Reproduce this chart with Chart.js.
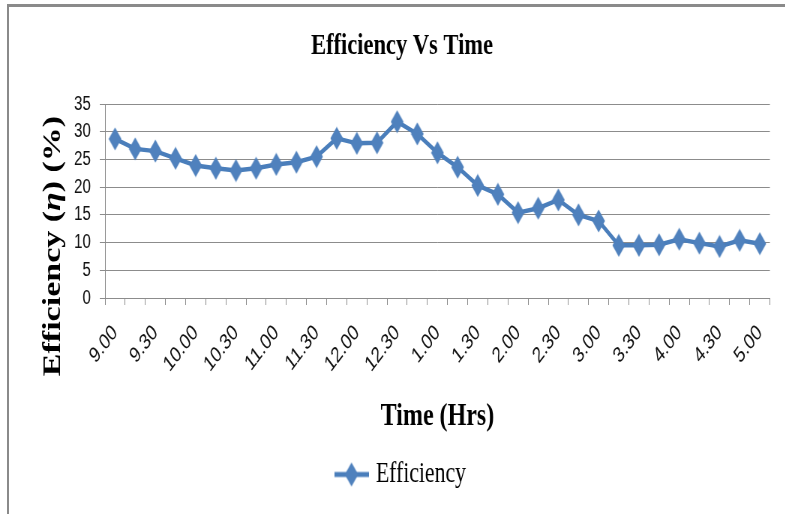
<!DOCTYPE html>
<html>
<head>
<meta charset="utf-8">
<script src="https://cdn.jsdelivr.net/npm/chart.js@4.4.1/dist/chart.umd.min.js"></script>
<style>
    html, body { margin: 0; padding: 0; background: #fff; overflow: hidden; }
    #frame {
        position: absolute; left: 7px; top: 4px; width: 900px; height: 600px;
        border-left: 2px solid #8a8a8a; border-top: 3px solid #8a8a8a;
    }
    /* the original chart is squeezed sideways, so draw wide and scale it down */
    #wrap {
        position: absolute; left: 0; top: 0; width: 1047px; height: 514px;
        transform: scaleX(0.75); transform-origin: 0 0;
    }
</style>
</head>
<body>
<div id="frame"></div>
<div id="wrap"><canvas id="effChart"></canvas></div>
<script>
// Time of day, every 15 minutes (only every other one is labelled)
const times = [
    '9.00', '9.15', '9.30', '9.45', '10.00', '10.15', '10.30', '10.45',
    '11.00', '11.15', '11.30', '11.45', '12.00', '12.15', '12.30', '12.45',
    '1.00', '1.15', '1.30', '1.45', '2.00', '2.15', '2.30', '2.45',
    '3.00', '3.15', '3.30', '3.45', '4.00', '4.15', '4.30', '4.45', '5.00'
];
// Efficiency (%)
const efficiency = [
    28.7, 26.9, 26.5, 25.2, 23.9, 23.4, 23.0, 23.4,
    24.1, 24.5, 25.5, 28.8, 27.9, 28.0, 31.8, 29.6,
    26.2, 23.6, 20.3, 18.7, 15.4, 16.2, 17.7, 15.0,
    13.9, 9.5, 9.5, 9.6, 10.6, 9.9, 9.3, 10.4, 9.8
];
const yTicks = [0, 5, 10, 15, 20, 25, 30, 35];

const blue = '#4A7EBB';
const markerBlue = '#4F81BD';
const gridGray = '#8c8c8c';

// tall diamond marker, drawn once and reused
function drawDiamond(g, cx, cy, hw, hh) {
    g.fillStyle = markerBlue;
    g.beginPath();
    g.moveTo(cx, cy - hh);
    g.lineTo(cx + hw, cy);
    g.lineTo(cx, cy + hh);
    g.lineTo(cx - hw, cy);
    g.closePath();
    g.fill();
}

function makeMarker() {
    const c = document.createElement('canvas');
    c.width = 18;
    c.height = 24;
    drawDiamond(c.getContext('2d'), 9, 12, 8.5, 11.5);
    return c;
}

// legend icon: short line with a diamond on it
function makeLegendIcon() {
    const c = document.createElement('canvas');
    c.width = 46;
    c.height = 28;
    const g = c.getContext('2d');
    g.strokeStyle = blue;
    g.lineWidth = 5;
    g.beginPath();
    g.moveTo(0, 14);
    g.lineTo(46, 14);
    g.stroke();
    drawDiamond(g, 23, 14, 9, 12);
    return c;
}

// y axis title sits lower than the axis middle in the original
const yTitlePlugin = {
    id: 'yTitle',
    afterDraw(chart) {
        const ctx = chart.ctx;
        const parts = [
            { text: 'Efficiency (', font: 'bold 34px "Liberation Serif"' },
            { text: 'η', font: 'italic bold 34px "Liberation Serif"' },
            { text: ') (%)', font: 'bold 34px "Liberation Serif"' }
        ];
        let total = 0;
        parts.forEach(p => { ctx.font = p.font; p.w = ctx.measureText(p.text).width; total += p.w; });
        ctx.save();
        ctx.translate(71, 246);
        ctx.rotate(-Math.PI / 2);
        ctx.fillStyle = '#000';
        ctx.textBaseline = 'middle';
        ctx.textAlign = 'left';
        let x = -total / 2;
        parts.forEach(p => { ctx.font = p.font; ctx.fillText(p.text, x, 0); x += p.w; });
        ctx.restore();
    }
};

document.addEventListener('DOMContentLoaded', function () {
    initEfficiencyChart();
});

function initEfficiencyChart() {
    const ctx = document.getElementById('effChart');
    if (!ctx) return;

    new Chart(ctx, {
        type: 'line',
        data: {
            labels: times,
            datasets: [{
                label: 'Efficiency',
                data: efficiency,
                borderColor: blue,
                backgroundColor: markerBlue,
                pointStyle: makeMarker(),
                pointRadius: 10,
                pointHoverRadius: 10,
                borderWidth: 4.5,
                tension: 0
            }]
        },
        options: {
            responsive: true,
            maintainAspectRatio: false,
            animation: false,
            layout: {
                padding: { left: 40, right: 15, top: 0, bottom: 15 }
            },
            plugins: {
                title: {
                    display: true,
                    text: 'Efficiency Vs Time',
                    color: '#000',
                    font: { family: '"Liberation Serif"', size: 30, weight: 'bold' },
                    padding: { top: 28, bottom: 40 }
                },
                legend: {
                    display: true,
                    position: 'bottom',
                    labels: {
                        usePointStyle: true,
                        pointStyle: makeLegendIcon(),
                        pointStyleWidth: 36,
                        color: '#000',
                        padding: 22,
                        font: { family: '"Liberation Serif"', size: 29 }
                    }
                },
                tooltip: { enabled: false }
            },
            scales: {
                x: {
                    offset: true,
                    grid: {
                        offset: true,
                        drawOnChartArea: false,
                        drawTicks: true,
                        tickLength: 7,
                        color: gridGray
                    },
                    border: { display: true, color: gridGray },
                    ticks: {
                        autoSkip: false,
                        maxRotation: 45,
                        minRotation: 45,
                        padding: 15,
                        color: '#111',
                        font: { family: '"Liberation Sans"', size: 22 },
                        callback: function (value, index) {
                            return index % 2 === 0 ? times[index] : '';
                        }
                    },
                    title: {
                        display: true,
                        text: 'Time (Hrs)',
                        color: '#000',
                        font: { family: '"Liberation Serif"', size: 32, weight: 'bold' },
                        padding: { top: 0, bottom: 2 }
                    },
                    afterFit: function (scale) { scale.height = 140; }
                },
                y: {
                    min: 0,
                    max: 35,
                    afterBuildTicks: function (scale) {
                        scale.ticks = yTicks.map(v => ({ value: v }));
                    },
                    grid: {
                        drawTicks: true,
                        tickLength: 7,
                        color: gridGray
                    },
                    border: { display: true, color: gridGray },
                    ticks: {
                        padding: 12,
                        color: '#111',
                        font: { family: '"Liberation Sans"', size: 20 }
                    },
                    afterFit: function (scale) { scale.width = 100; }
                }
            }
        },
        plugins: [yTitlePlugin]
    });
}
</script>
</body>
</html>
